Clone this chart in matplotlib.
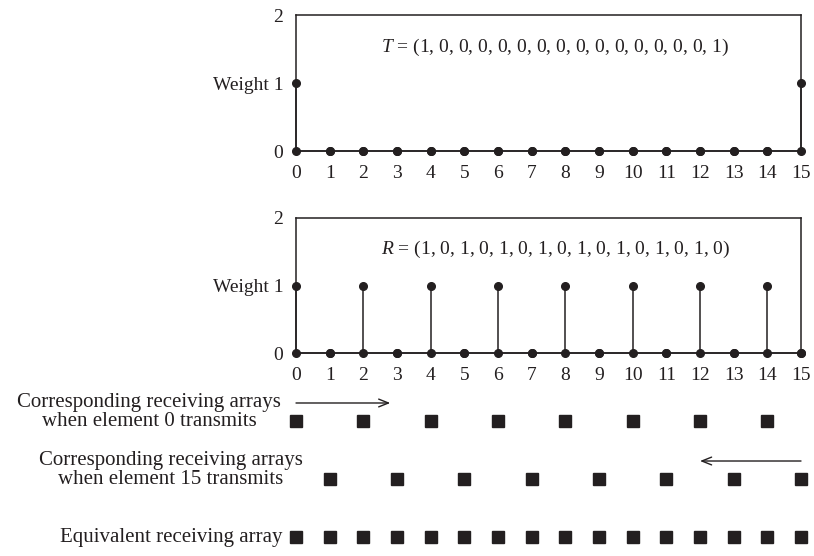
import numpy as np
import matplotlib.pyplot as plt

# transmit / receive weights of the 16-element array
elements = np.arange(16)
T = [1, 0, 0, 0, 0, 0, 0, 0, 0, 0, 0, 0, 0, 0, 0, 1]
R = [1, 0, 1, 0, 1, 0, 1, 0, 1, 0, 1, 0, 1, 0, 1, 0]

# receiving element positions for each case
rx_tx0 = [0, 2, 4, 6, 8, 10, 12, 14]
rx_tx15 = [1, 3, 5, 7, 9, 11, 13, 15]
rx_equiv = list(range(16))

ytick_vals = [0, 1, 2]
ytick_labels = ['0', 'Weight 1', '2']

ink = '#231f20'
plt.rcParams['font.family'] = ['Liberation Serif', 'DejaVu Serif']
plt.rcParams['mathtext.fontset'] = 'custom'
plt.rcParams['mathtext.rm'] = 'Liberation Serif'
plt.rcParams['mathtext.it'] = 'Liberation Serif:italic'
plt.rcParams['font.size'] = 14

W, H = 814, 556
fig = plt.figure(figsize=(W / 100, H / 100), dpi=100)

def px_axes(left, top, right, bottom):
    return fig.add_axes([left / W, 1 - bottom / H, (right - left) / W, (bottom - top) / H])

def weight_panel(ax, w, name):
    ml, sl, bl = ax.stem(elements, w, linefmt='-', markerfmt='o', basefmt='-')
    ml.set_color(ink)
    ml.set_markersize(5.5)
    sl.set_color(ink)
    sl.set_linewidth(1.1)
    bl.set_color(ink)
    bl.set_linewidth(1.1)
    for a in (ml, sl, bl):
        a.set_clip_on(False)
    # every element also sits on the baseline
    ax.plot(elements, np.zeros(len(elements)), 'o', color=ink, markersize=5.5, clip_on=False)
    ax.set_xlim(0, 15)
    ax.set_ylim(0, 2)
    ax.set_xticks(elements)
    ax.set_yticks(ytick_vals, ytick_labels)
    ax.tick_params(length=0, labelcolor=ink)
    ax.tick_params(axis='x', pad=10)
    ax.tick_params(axis='y', pad=9)
    for s in ax.spines.values():
        s.set_color(ink)
        s.set_linewidth(1.1)
    vals = ', '.join(str(v) for v in w)
    ax.text(7.7, 1.53, f'${name}$ = ({vals})', ha='center', va='center', color=ink)

ax1 = px_axes(296, 15, 801, 151)
weight_panel(ax1, T, 'T')
ax2 = px_axes(296, 218, 801, 353)
weight_panel(ax2, R, 'R')

# receiving arrays
ax3 = px_axes(296, 390, 801, 550)
ax3.set_xlim(0, 15)
ax3.set_ylim(2.224, -0.534)
ax3.axis('off')
for row, xs in enumerate([rx_tx0, rx_tx15, rx_equiv]):
    ax3.plot(xs, [row] * len(xs), 's', color=ink, markersize=8.2, clip_on=False)

arrow = dict(arrowstyle='->,head_length=0.5,head_width=0.2', color=ink, lw=1.0,
             shrinkA=0, shrinkB=0)
ax3.annotate('', xy=(2.8, -0.31), xytext=(0, -0.31), arrowprops=arrow)
ax3.annotate('', xy=(12.0, 0.69), xytext=(15, 0.69), arrowprops=arrow)

lbl = dict(ha='right', va='center', multialignment='center', color=ink,
           linespacing=0.95, fontsize=15, clip_on=False)
ax3.text(-0.45, -0.155, 'Corresponding receiving arrays\nwhen element 0 transmits', **lbl)
ax3.text(0.2, 0.845, 'Corresponding receiving arrays\nwhen element 15 transmits', **lbl)
ax3.text(-0.4, 2, 'Equivalent receiving array', **lbl)

fig.savefig('out.png', dpi=100)
